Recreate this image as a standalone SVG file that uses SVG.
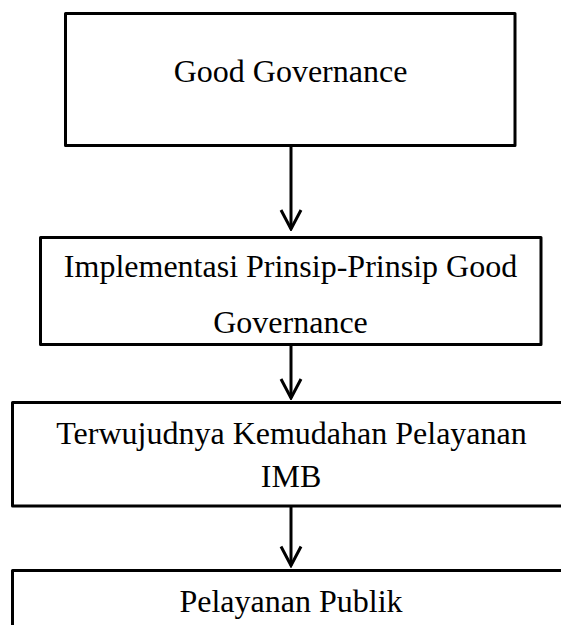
<svg xmlns="http://www.w3.org/2000/svg" width="561" height="625" viewBox="0 0 561 625">
<defs>
<style>
.box{fill:#fff;stroke:#000;stroke-width:3;stroke-linejoin:round}
.lbl{font-family:"Liberation Serif","Times New Roman",serif;font-size:32px;fill:#000;text-anchor:middle}
.conn{stroke:#000;stroke-width:3;fill:none}
</style>
<marker id="arr" markerUnits="userSpaceOnUse" viewBox="-22 -12 24 24" refX="0" refY="0" markerWidth="24" markerHeight="24" orient="auto">
<path d="M -19 -10 L 0 0 L -19 10" fill="none" stroke="#000" stroke-width="3" stroke-linejoin="miter"/>
</marker>
</defs>
<rect width="561" height="625" fill="#fff"/>
<g id="connectors">
<line class="conn" x1="291" y1="146" x2="291" y2="229" marker-end="url(#arr)"/>
<line class="conn" x1="291" y1="344" x2="291" y2="398" marker-end="url(#arr)"/>
<line class="conn" x1="291" y1="506" x2="291" y2="565.5" marker-end="url(#arr)"/>
</g>
<g id="node-good-governance">
<rect class="box" x="65.5" y="13.5" width="449.5" height="132"/>
<text class="lbl" x="290.5" y="81.5">Good Governance</text>
</g>
<g id="node-implementasi">
<rect class="box" x="40.5" y="237.5" width="500.5" height="107"/>
<text class="lbl" x="290.5" y="276.5">Implementasi Prinsip-Prinsip Good</text>
<text class="lbl" x="290.5" y="333">Governance</text>
</g>
<g id="node-terwujudnya">
<rect class="box" x="12.5" y="402.5" width="600" height="103.5"/>
<text class="lbl" x="291.5" y="444">Terwujudnya Kemudahan Pelayanan</text>
<text class="lbl" x="291" y="486.5">IMB</text>
</g>
<g id="node-pelayanan-publik">
<rect class="box" x="12.5" y="570.5" width="600" height="100"/>
<text class="lbl" x="291" y="611.5">Pelayanan Publik</text>
</g>
</svg>
